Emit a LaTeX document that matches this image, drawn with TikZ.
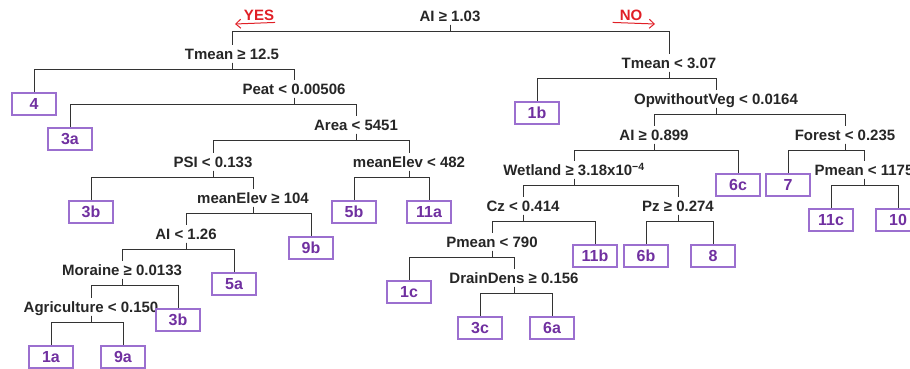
\documentclass[tikz,border=0pt]{standalone}
\usepackage{fontspec}
\setmainfont{Liberation Sans}
\usetikzlibrary{arrows.meta}
\definecolor{leafpurple}{HTML}{7030A0}
\definecolor{leafborder}{HTML}{9B6FCF}
\definecolor{yesred}{HTML}{E01F26}
\begin{document}
\begin{tikzpicture}[x=1pt, y=-1pt,
    split/.style={font=\fontsize{15}{18}\selectfont\bfseries, text=black!85, inner xsep=1pt, inner ysep=3pt, text height=11pt, text depth=0pt},
    leaf/.style={draw=leafborder, line width=1.1pt, font=\fontsize{16}{18}\selectfont\bfseries, text=leafpurple, minimum width=44pt, minimum height=22pt, inner sep=0pt},
    edge/.style={draw=black!80, line width=0.9pt},
    yesno/.style={font=\fontsize{15}{17}\selectfont\bfseries, text=yesred, inner sep=1pt, text depth=0pt},
    yesarrow/.style={-{Straight Barb[length=5pt, width=9pt]}, yesred, line width=1pt}]
    \useasboundingbox (0,0) rectangle (910,369);
    \clip (0,0) rectangle (910,369);

    % splits
    \node[split] (root) at (450,16) {AI ≥ 1.03};
    \node[split] (tmeanA) at (232,54) {Tmean ≥ 12.5};
    \node[split] (peat) at (294,89) {Peat < 0.00506};
    \node[split] (area) at (356,125) {Area < 5451};
    \node[split] (psi) at (213,162) {PSI < 0.133};
    \node[split] (elevA) at (409,162) {meanElev < 482};
    \node[split] (elevB) at (253,198) {meanElev ≥ 104};
    \node[split] (aiA) at (186,234) {AI < 1.26};
    \node[split] (moraine) at (122,270) {Moraine ≥ 0.0133};
    \node[split] (agri) at (91,307) {Agriculture < 0.150};
    \node[split] (tmeanB) at (669,63) {Tmean < 3.07};
    \node[split] (opveg) at (716,99) {OpwithoutVeg < 0.0164};
    \node[split] (aiB) at (654,135) {AI ≥ 0.899};
    \node[split] (forest) at (845,135) {Forest < 0.235};
    \node[split] (pmeanA) at (864,170) {Pmean < 1175};
    \node[split] (wetland) at (574,170) {Wetland ≥ 3.18x10\textsuperscript{−4}};
    \node[split] (cz) at (523,206) {Cz < 0.414};
    \node[split] (pz) at (678,206) {Pz ≥ 0.274};
    \node[split] (pmeanB) at (492,242) {Pmean < 790};
    \node[split] (drain) at (514,278) {DrainDens ≥ 0.156};

    % leaves
    \node[leaf] (l4) at (34,104) {4};
    \node[leaf] (l3a) at (70,139) {3a};
    \node[leaf] (l3b) at (91,212) {3b};
    \node[leaf] (l5b) at (354,212) {5b};
    \node[leaf] (l11a) at (429,212) {11a};
    \node[leaf] (l9b) at (311,248) {9b};
    \node[leaf] (l5a) at (234,284) {5a};
    \node[leaf] (l3bb) at (178,320) {3b};
    \node[leaf] (l1a) at (51,357) {1a};
    \node[leaf] (l9a) at (123,357) {9a};
    \node[leaf] (l1b) at (537,113) {1b};
    \node[leaf] (l6c) at (738,185) {6c};
    \node[leaf] (l7) at (788,185) {7};
    \node[leaf] (l11c) at (831,220) {11c};
    \node[leaf] (l10) at (898,220) {10};
    \node[leaf] (l11b) at (595,256) {11b};
    \node[leaf] (l6b) at (646,256) {6b};
    \node[leaf] (l8) at (713,256) {8};
    \node[leaf] (l1c) at (409,292) {1c};
    \node[leaf] (l3c) at (480,328) {3c};
    \node[leaf] (l6a) at (552,328) {6a};

    % branches
    \draw[edge] (root.south) -- ++(0,7) -| (tmeanA.north);
    \draw[edge] (root.south) -- ++(0,7) -| (tmeanB.north);
    \draw[edge] (tmeanA.south) -- ++(0,7) -| (l4.north);
    \draw[edge] (tmeanA.south) -- ++(0,7) -| (peat.north);
    \draw[edge] (peat.south) -- ++(0,7) -| (l3a.north);
    \draw[edge] (peat.south) -- ++(0,7) -| (area.north);
    \draw[edge] (area.south) -- ++(0,7) -| (psi.north);
    \draw[edge] (area.south) -- ++(0,7) -| (elevA.north);
    \draw[edge] (psi.south) -- ++(0,7) -| (l3b.north);
    \draw[edge] (psi.south) -- ++(0,7) -| (elevB.north);
    \draw[edge] (elevA.south) -- ++(0,7) -| (l5b.north);
    \draw[edge] (elevA.south) -- ++(0,7) -| (l11a.north);
    \draw[edge] (elevB.south) -- ++(0,7) -| (aiA.north);
    \draw[edge] (elevB.south) -- ++(0,7) -| (l9b.north);
    \draw[edge] (aiA.south) -- ++(0,7) -| (moraine.north);
    \draw[edge] (aiA.south) -- ++(0,7) -| (l5a.north);
    \draw[edge] (moraine.south) -- ++(0,7) -| (agri.north);
    \draw[edge] (moraine.south) -- ++(0,7) -| (l3bb.north);
    \draw[edge] (agri.south) -- ++(0,7) -| (l1a.north);
    \draw[edge] (agri.south) -- ++(0,7) -| (l9a.north);
    \draw[edge] (tmeanB.south) -- ++(0,7) -| (l1b.north);
    \draw[edge] (tmeanB.south) -- ++(0,7) -| (opveg.north);
    \draw[edge] (opveg.south) -- ++(0,7) -| (aiB.north);
    \draw[edge] (opveg.south) -- ++(0,7) -| (forest.north);
    \draw[edge] (aiB.south) -- ++(0,7) -| (wetland.north);
    \draw[edge] (aiB.south) -- ++(0,7) -| (l6c.north);
    \draw[edge] (forest.south) -- ++(0,7) -| (l7.north);
    \draw[edge] (forest.south) -- ++(0,7) -| (pmeanA.north);
    \draw[edge] (pmeanA.south) -- ++(0,7) -| (l11c.north);
    \draw[edge] (pmeanA.south) -- ++(0,7) -| (l10.north);
    \draw[edge] (wetland.south) -- ++(0,7) -| (cz.north);
    \draw[edge] (wetland.south) -- ++(0,7) -| (pz.north);
    \draw[edge] (cz.south) -- ++(0,7) -| (pmeanB.north);
    \draw[edge] (cz.south) -- ++(0,7) -| (l11b.north);
    \draw[edge] (pz.south) -- ++(0,7) -| (l6b.north);
    \draw[edge] (pz.south) -- ++(0,7) -| (l8.north);
    \draw[edge] (pmeanB.south) -- ++(0,7) -| (l1c.north);
    \draw[edge] (pmeanB.south) -- ++(0,7) -| (drain.north);
    \draw[edge] (drain.south) -- ++(0,7) -| (l3c.north);
    \draw[edge] (drain.south) -- ++(0,7) -| (l6a.north);

    % yes / no
    \node[yesno] (yes) at (259,15) {YES};
    \node[yesno] (no) at (631,15) {NO};
    \coordinate (yesTip) at (235,24);
    \coordinate (noTip) at (655,24);
    \draw[yesarrow] (yes.south east) ++(0,1) -- (yesTip);
    \draw[yesarrow] (no.south west) ++(-6,1) -- (noTip);
\end{tikzpicture}
\end{document}
